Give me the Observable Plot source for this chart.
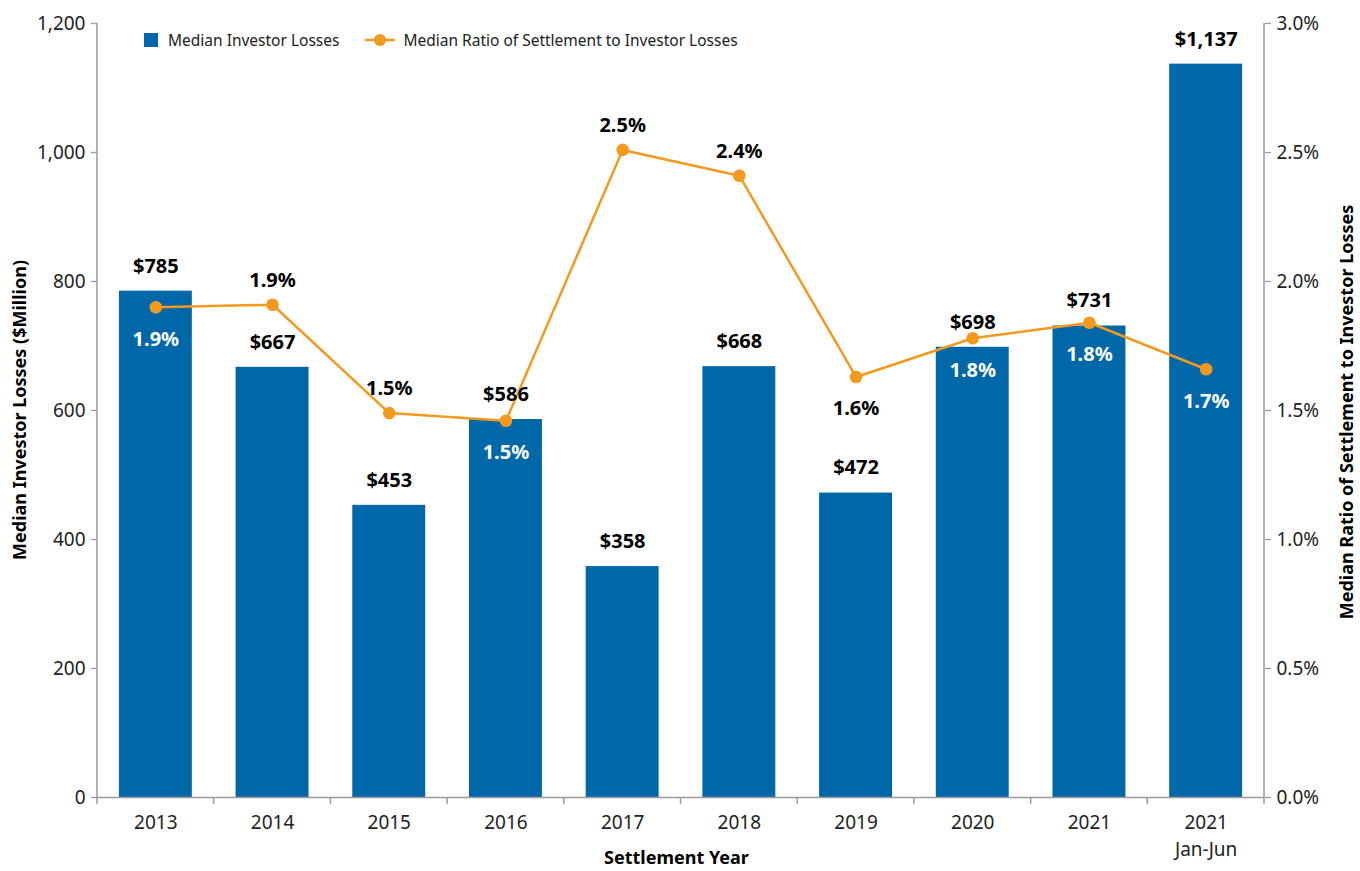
<!DOCTYPE html>
<html>
<head>
<meta charset="utf-8">
<script src="https://cdn.jsdelivr.net/npm/d3@7"></script>
<script src="https://cdn.jsdelivr.net/npm/@observablehq/plot@0.6"></script>
<style>
  html, body { margin: 0; padding: 0; background: #fff; overflow: hidden; }
  #wrap { position: relative; width: 1360px; height: 871px; font-family: "Noto Sans", sans-serif; }
  #chart svg { display: block; }
  #legend { position: absolute; left: 144px; top: 29px; display: flex; align-items: center; font-size: 15.5px; color: #222; }
  #legend .sw { width: 14px; height: 14px; background: #0067a8; margin-right: 10px; }
  #legend .item { display: flex; align-items: center; margin-right: 26px; }
  #legend svg { margin-right: 8px; }
</style>
</head>
<body>
<div id="wrap">
  <div id="chart"></div>
  <div id="legend">
    <div class="item"><div class="sw"></div><span>Median Investor Losses</span></div>
    <div class="item"><svg width="30" height="14"><line x1="0" x2="30" y1="7" y2="7" stroke="#f39a1e" stroke-width="2.5"/><circle cx="15" cy="7" r="6" fill="#f39a1e"/></svg><span>Median Ratio of Settlement to Investor Losses</span></div>
  </div>
</div>
<script>
const years = ["2013","2014","2015","2016","2017","2018","2019","2020","2021","2021\nJan-Jun"];
const losses = [785, 667, 453, 586, 358, 668, 472, 698, 731, 1137];
const ratios = [1.90, 1.91, 1.49, 1.46, 2.51, 2.41, 1.63, 1.78, 1.84, 1.66];
const leftTicks = [0, 200, 400, 600, 800, 1000, 1200];
const rightTicks = [0, 0.5, 1.0, 1.5, 2.0, 2.5, 3.0];

// layout config (not data)
const ratioLabelBelow = new Set(["2013","2016","2019","2020","2021","2021\nJan-Jun"]);
const RATIO_SCALE = 1200 / 3.0; // right axis 3.0% == left axis 1200
const BLUE = "#0067a8", ORANGE = "#f39a1e", AXIS = "#9a9a9a";
const FONT = "Noto Sans, sans-serif";

const rows = years.map((y, i) => ({year: y, loss: losses[i], ratio: ratios[i], ry: ratios[i] * RATIO_SCALE}));
const aboveDy = -24, belowDy = 32;
const pxPerUnit = (797 - 23) / 1200;
rows.forEach(r => {
  r.below = ratioLabelBelow.has(r.year);
  const labY = r.ry - (r.below ? belowDy : aboveDy) / pxPerUnit;
  r.labelColor = (r.below && labY < r.loss) ? "#ffffff" : "#000000";
});

const chart = Plot.plot({
  width: 1360,
  height: 871,
  marginLeft: 97,
  marginRight: 96,
  marginTop: 23,
  marginBottom: 74,
  style: {fontFamily: FONT, fontSize: "19px", color: "#222", background: "#fff", overflow: "visible", maxWidth: "none"},
  x: {type: "band", domain: years, paddingInner: 0.375, paddingOuter: 0.1875, round: false, axis: null},
  y: {domain: [0, 1200], axis: null},
  marks: [
    Plot.barY(rows, {x: "year", y: "loss", fill: BLUE}),
    Plot.axisX({tickSize: 0, tickPadding: 13, fontSize: 19, lineHeight: 1.4, label: null, fill: "#222"}),
    Plot.axisY({anchor: "left", ticks: leftTicks, tickFormat: d3.format(","), tickSize: 6, tickPadding: 6, stroke: AXIS, strokeWidth: 1.3, fill: "#222", label: null, fontSize: 19}),
    Plot.axisY({anchor: "right", ticks: rightTicks.map(t => t * RATIO_SCALE), tickFormat: d => (d / RATIO_SCALE).toFixed(1) + "%", tickSize: 6, tickPadding: 6, stroke: AXIS, strokeWidth: 1.3, fill: "#222", label: null, fontSize: 19}),
    Plot.ruleY([0], {stroke: AXIS, strokeWidth: 1.5}),
    Plot.line(rows, {x: "year", y: "ry", stroke: ORANGE, strokeWidth: 2.5}),
    Plot.dot(rows, {x: "year", y: "ry", r: 6.3, fill: ORANGE}),
    Plot.text(rows, {x: "year", y: "loss", text: d => "$" + d3.format(",")(d.loss), dy: -25, fontWeight: "bold", fontSize: 20, fill: "#000"}),
    Plot.text(rows.filter(r => !r.below), {x: "year", y: "ry", text: d => d.ratio.toFixed(1) + "%", dy: aboveDy, fontWeight: "bold", fontSize: 20, fill: d => d.labelColor}),
    Plot.text(rows.filter(r => r.below), {x: "year", y: "ry", text: d => d.ratio.toFixed(1) + "%", dy: belowDy, fontWeight: "bold", fontSize: 20, fill: d => d.labelColor})
  ]
});

document.getElementById("chart").appendChild(chart);

// axis lines and category boundary ticks, derived from the plot's scales
const sx = chart.scale("x"), sy = chart.scale("y");
const bw = sx.bandwidth;
const step = bw / (1 - 0.375);
const bounds = years.map(y => sx.apply(y) + bw / 2 - step / 2);
bounds.push(bounds[bounds.length - 1] + step);
const y0 = sy.apply(0), yTop = sy.apply(1200);
const svg = d3.select(chart);
const g = svg.append("g").attr("stroke", AXIS).attr("stroke-width", 1.5);
g.append("line").attr("x1", bounds[0]).attr("x2", bounds[0]).attr("y1", yTop).attr("y2", y0);
g.append("line").attr("x1", bounds[bounds.length - 1]).attr("x2", bounds[bounds.length - 1]).attr("y1", yTop).attr("y2", y0);
bounds.forEach(b => g.append("line").attr("x1", b).attr("x2", b).attr("y1", y0).attr("y2", y0 + 7));

// axis titles
const midY = (y0 + yTop) / 2;
svg.append("text").attr("transform", `translate(21,${midY}) rotate(-90)`)
  .attr("text-anchor", "middle").attr("dominant-baseline", "middle").attr("font-weight", "bold").attr("font-size", 18).attr("fill", "#000")
  .text("Median Investor Losses ($Million)");
svg.append("text").attr("transform", `translate(1348,${midY + 2}) rotate(-90)`)
  .attr("text-anchor", "middle").attr("dominant-baseline", "middle").attr("font-weight", "bold").attr("font-size", 18).attr("fill", "#000")
  .text("Median Ratio of Settlement to Investor Losses");
svg.append("text").attr("x", (bounds[0] + bounds[bounds.length - 1]) / 2 - 4).attr("y", 864)
  .attr("text-anchor", "middle").attr("font-weight", "bold").attr("font-size", 18).attr("fill", "#000")
  .text("Settlement Year");
</script>
</body>
</html>
